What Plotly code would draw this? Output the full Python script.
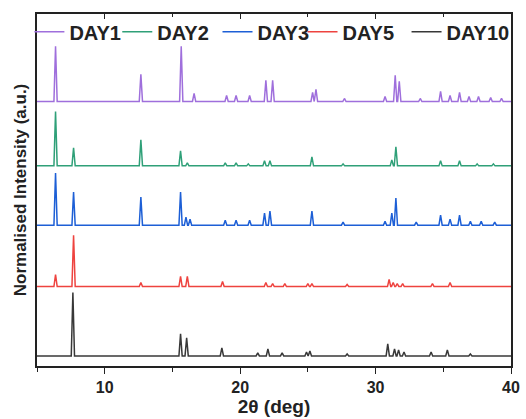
import plotly.graph_objects as go

# ---- data (2theta in deg, peak heights in a.u.) ----
series_names = ["DAY1", "DAY2", "DAY3", "DAY5", "DAY10"]
series_offsets = [263, 199, 140, 79, 10]

day1_pos = [6.37, 12.67, 15.65, 16.6, 19.0, 19.7, 20.7, 21.9, 22.4, 25.35, 25.6, 27.7, 30.7, 31.45, 31.75,
            33.3, 34.8, 35.5, 36.2, 36.9, 37.6, 38.5, 39.3]
day1_h = [55, 27, 55, 8, 6, 6, 6, 21, 21, 9, 12, 3, 5, 26, 20, 3, 10, 6, 9, 5, 5, 4, 3]

day2_pos = [6.37, 7.7, 12.67, 15.6, 16.1, 18.9, 19.7, 20.6, 21.8, 22.2, 25.3, 27.6, 31.2, 31.5, 34.8, 36.2, 37.5, 38.7]
day2_h = [54, 18, 26, 15, 3, 3, 3, 2, 5, 5, 9, 2, 6, 19, 5, 5, 2, 2]

day3_pos = [6.37, 7.7, 12.67, 15.6, 16.0, 16.3, 18.9, 19.7, 20.7, 21.8, 22.2, 25.3, 27.6, 30.7, 31.2, 31.5,
            33.0, 34.8, 35.5, 36.2, 37.0, 37.8, 38.8]
day3_h = [52, 33, 28, 33, 8, 6, 5, 5, 5, 12, 14, 14, 3, 4, 12, 27, 3, 10, 6, 10, 4, 4, 3]

day5_pos = [6.37, 7.7, 12.67, 15.6, 16.1, 18.7, 21.9, 22.4, 23.3, 25.0, 25.3, 27.9, 31.0, 31.3, 31.6, 32.0, 34.2, 35.5]
day5_h = [12, 51, 4, 10, 10, 5, 4, 3, 3, 3, 3, 2, 7, 4, 3, 3, 3, 4]

day10_pos = [7.65, 15.6, 16.05, 18.65, 21.3, 22.05, 23.1, 24.9, 25.15, 27.9, 30.9, 31.4, 31.7, 32.1, 34.1, 35.3, 37.0]
day10_h = [63, 22, 18, 8, 3, 7, 3, 4, 5, 2, 12, 7, 6, 4, 4, 6, 2]

x_start, x_end = 5, 40
x_ticks = [10, 20, 30, 40]
x_minor_ticks = [5, 15, 25, 35]

peak_pos = [day1_pos, day2_pos, day3_pos, day5_pos, day10_pos]
peak_h = [day1_h, day2_h, day3_h, day5_h, day10_h]

# ---- styling ----
series_colors = ["#9f6fdc", "#2fa078", "#1d5fd6", "#ee433f", "#383838"]
legend_ids = ["legend", "legend2", "legend3", "legend4", "legend5"]
legend_x = [-0.016, 0.169, 0.380, 0.559, 0.778]   # paper-x of each legend entry


def pattern(pos, h, base, hw=0.12):
    xs, ys = [x_start], [base]
    for p, v in sorted(zip(pos, h)):
        xs += [p - hw, p, p + hw]
        ys += [base, base + v, base]
    xs.append(x_end)
    ys.append(base)
    return xs, ys


fig = go.Figure()
for name, col, off, pos, h, lg in zip(series_names, series_colors, series_offsets, peak_pos, peak_h,
                                      legend_ids):
    xs, ys = pattern(pos, h, off)
    fig.add_trace(go.Scatter(x=xs, y=ys, mode="lines", name=name, legend=lg,
                             line=dict(color=col, width=1.5), hoverinfo="skip"))

# invisible helper trace so the top axis (inward ticks) is drawn
fig.add_trace(go.Scatter(x=[x_start, x_end], y=[series_offsets[-1]] * 2, xaxis="x2",
                         mode="lines", line=dict(width=0), opacity=0,
                         showlegend=False, hoverinfo="skip"))

font_family = "Liberation Sans, Arial, sans-serif"
legend_style = dict(orientation="h", y=1.005, xanchor="left", yanchor="top",
                    bgcolor="rgba(0,0,0,0)", font=dict(size=20, color="#222", weight="bold"),
                    itemwidth=30)
fig.update_layout(
    width=526, height=419,
    margin=dict(l=37, r=14, t=14, b=53),
    paper_bgcolor="white", plot_bgcolor="white",
    font=dict(family=font_family, color="#222"),
    showlegend=True,
    xaxis=dict(range=[x_start, x_end], tickvals=x_ticks, ticks="outside", ticklen=6, tickwidth=1.3,
               tickcolor="#222", showline=True, linecolor="#222", linewidth=1.6,
               mirror=True, showgrid=False, zeroline=False, automargin=False,
               tickfont=dict(size=16, weight="bold"),
               minor=dict(tickvals=x_minor_ticks, ticks="outside", ticklen=4, tickcolor="#222", tickwidth=1.2),
               title=dict(text="2θ (deg)", font=dict(size=19, weight="bold"), standoff=2)),
    xaxis2=dict(range=[x_start, x_end], overlaying="x", side="top", anchor="y",
                tickvals=x_ticks, ticks="inside", ticklen=5, tickwidth=1.3, tickcolor="#222",
                showticklabels=False, showgrid=False, zeroline=False, showline=False, automargin=False,
                minor=dict(tickvals=x_minor_ticks, ticks="inside", ticklen=3, tickcolor="#222", tickwidth=1.2)),
    yaxis=dict(range=[0, 350], showticklabels=False, ticks="", showgrid=False, zeroline=False,
               showline=True, linecolor="#222", linewidth=1.6, mirror=True, automargin=False,
               title=dict(text="Normalised Intensity (a.u.)", font=dict(size=17, weight="bold"), standoff=4)),
)
for lg, lx in zip(legend_ids, legend_x):
    fig.update_layout({lg: dict(legend_style, x=lx)})

fig.write_html("out.html", config={"displayModeBar": False},
               post_script="document.body.style.margin='0';")
